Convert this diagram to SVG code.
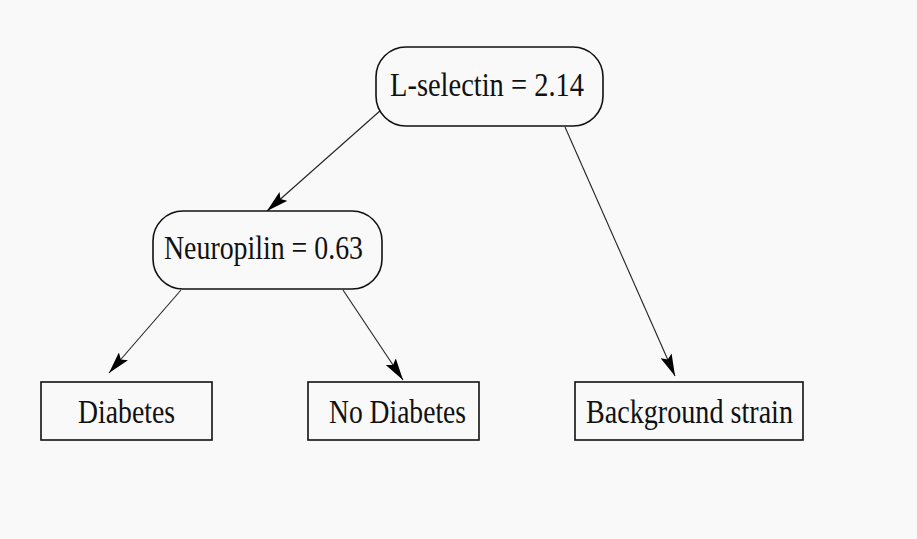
<svg xmlns="http://www.w3.org/2000/svg" width="917" height="539" viewBox="0 0 917 539">
<style>
.node{fill:#f9f9f9;stroke:#111;stroke-width:1.6}
.lbl{font-family:"Liberation Serif","DejaVu Serif",serif;font-size:34px;fill:#111;text-anchor:middle}
.edge{stroke:#222;stroke-width:1.1;fill:none}
</style>
<defs>
<marker id="arr" markerUnits="userSpaceOnUse" markerWidth="24" markerHeight="12" refX="22" refY="6" orient="auto">
<path d="M0,0 L22,6 L0,12 L4,6 z" fill="#000"/>
</marker>
</defs>
<rect width="917" height="539" fill="#f9f9f9"/>
<g id="connectors">
<line class="edge" x1="381" y1="110" x2="267" y2="211" marker-end="url(#arr)"/>
<line class="edge" x1="181" y1="290" x2="109" y2="373" marker-end="url(#arr)"/>
<line class="edge" x1="343" y1="290" x2="403" y2="380" marker-end="url(#arr)"/>
<line class="edge" x1="565" y1="127" x2="675" y2="376" marker-end="url(#arr)"/>
</g>
<g id="node-lselectin">
<rect class="node" x="376" y="47" width="227" height="79" rx="30" ry="30"/>
<text class="lbl" x="487" y="96" textLength="194" lengthAdjust="spacingAndGlyphs">L-selectin = 2.14</text>
</g>
<g id="node-neuropilin">
<rect class="node" x="153" y="211" width="229" height="78" rx="30" ry="30"/>
<text class="lbl" x="263.5" y="259" textLength="199" lengthAdjust="spacingAndGlyphs">Neuropilin = 0.63</text>
</g>
<g id="node-diabetes">
<rect class="node" x="41" y="382" width="171" height="58"/>
<text class="lbl" x="126.5" y="423" textLength="97" lengthAdjust="spacingAndGlyphs">Diabetes</text>
</g>
<g id="node-nodiabetes">
<rect class="node" x="308" y="382" width="171" height="58"/>
<text class="lbl" x="397.5" y="423" textLength="137" lengthAdjust="spacingAndGlyphs">No Diabetes</text>
</g>
<g id="node-background">
<rect class="node" x="575" y="382" width="228" height="58"/>
<text class="lbl" x="689.5" y="423" textLength="207" lengthAdjust="spacingAndGlyphs">Background strain</text>
</g>
</svg>
